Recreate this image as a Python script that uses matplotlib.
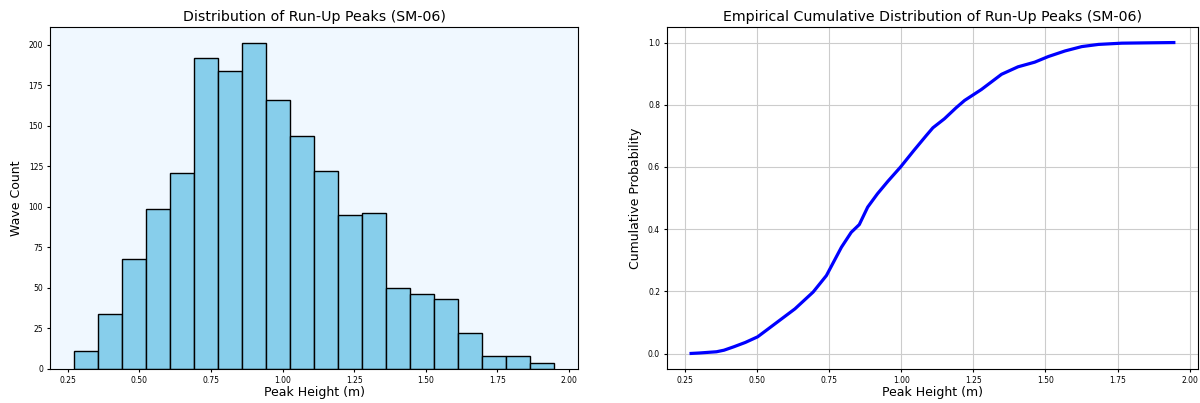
import matplotlib
matplotlib.use("Agg")
import matplotlib.pyplot as plt
import numpy as np

# histogram of run-up peaks (20 bins)
bin_start = 0.272
bin_width = 0.0838
counts = [11, 34, 68, 99, 121, 192, 184, 201, 166, 144,
          122, 95, 96, 50, 46, 43, 22, 8, 8, 4]

# empirical CDF of the same peaks
ecdf_x = [0.272, 0.30, 0.33, 0.36, 0.386, 0.42, 0.46, 0.5025, 0.540, 0.586,
          0.632, 0.695, 0.741, 0.793, 0.827, 0.855, 0.884, 0.918, 0.954, 0.998,
          1.044, 1.087, 1.11, 1.15, 1.19, 1.22, 1.278, 1.348, 1.405, 1.463,
          1.51, 1.568, 1.626, 1.684, 1.765, 1.85, 1.945]
ecdf_y = [0.0006, 0.002, 0.004, 0.006, 0.011, 0.022, 0.036, 0.054, 0.080, 0.112,
          0.144, 0.198, 0.251, 0.342, 0.390, 0.415, 0.471, 0.514, 0.554, 0.600,
          0.653, 0.701, 0.726, 0.755, 0.790, 0.814, 0.849, 0.898, 0.922, 0.937,
          0.955, 0.973, 0.987, 0.994, 0.998, 0.999, 1.0]

edges = bin_start + bin_width * np.arange(len(counts) + 1)
xticks = [0.25, 0.5, 0.75, 1.0, 1.25, 1.5, 1.75, 2.0]

fig = plt.figure(figsize=(12, 4.03), dpi=100)
ax1 = fig.add_axes([0.0417, 0.0844, 0.44, 0.8486])
ax2 = fig.add_axes([0.5558, 0.0844, 0.4425, 0.8486])

ax1.set_facecolor("aliceblue")
ax1.hist(edges[:-1], bins=edges, weights=counts, color="skyblue", edgecolor="black")
ax1.set_title("Distribution of Run-Up Peaks (SM-06)", fontsize=10.2, pad=4)
ax1.set_xlabel("Peak Height (m)", fontsize=9, labelpad=1)
ax1.set_ylabel("Wave Count", fontsize=9, labelpad=4)
ax1.set_xticks(xticks)

ax2.plot(ecdf_x, ecdf_y, color="blue", linewidth=2.3)
ax2.set_title("Empirical Cumulative Distribution of Run-Up Peaks (SM-06)", fontsize=10.2, pad=4)
ax2.set_xlabel("Peak Height (m)", fontsize=9, labelpad=1)
ax2.set_ylabel("Cumulative Probability", fontsize=9, labelpad=4)
ax2.set_xticks(xticks)
ax2.grid(True, color="#cccccc")

for ax in (ax1, ax2):
    ax.tick_params(labelsize=5.5, length=2.5, pad=2.5)

fig.savefig("out.png", dpi=100)
